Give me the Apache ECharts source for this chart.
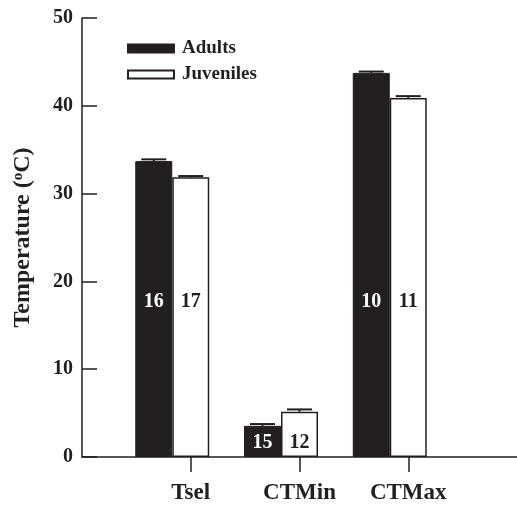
<!DOCTYPE html>
<html>
<head>
<meta charset="utf-8">
<script src="https://cdn.jsdelivr.net/npm/echarts@6/dist/echarts.min.js"></script>
<style>html,body{margin:0;padding:0;background:#fff}#c{width:517px;height:505px}</style>
</head>
<body>
<div id="c"></div>
<script>
var categories = ['Tsel', 'CTMin', 'CTMax'];
var adults = [33.7, 3.55, 43.75];
var adultsErr = [0.2, 0.2, 0.15];
var juveniles = [31.85, 5.15, 40.9];
var juvenilesErr = [0.15, 0.27, 0.2];
var nAdults = [16, 15, 10];
var nJuveniles = [17, 12, 11];
var nLabelY = [17.7, 1.6, 17.7];
var yTicks = [0, 10, 20, 30, 40, 50];

var INK = '#231f20';
var FONT = '"Liberation Serif", "Times New Roman", serif';
var BW = 37;

var axisData = [''].concat(categories, ['']);
function pad(arr) { return ['-'].concat(arr, ['-']); }
function errData(vals, errs) {
  return vals.map(function (v, i) { return [i + 1, v, errs[i]]; });
}
function labelData(ns) {
  return ns.map(function (n, i) { return [i + 1, nLabelY[i], n]; });
}
function errRender(offset) {
  return function (params, api) {
    var x = api.value(0), m = api.value(1), e = api.value(2);
    var p0 = api.coord([x, m]);
    var p1 = api.coord([x, m + e]);
    var cx = p0[0] + offset;
    var st = { stroke: INK, lineWidth: 2 };
    return {
      type: 'group',
      children: [
        { type: 'line', shape: { x1: cx, y1: p0[1], x2: cx, y2: p1[1] }, style: st },
        { type: 'line', shape: { x1: cx - 12.5, y1: p1[1], x2: cx + 12.5, y2: p1[1] }, style: st }
      ]
    };
  };
}
function labelRender(offset, color) {
  return function (params, api) {
    var p = api.coord([api.value(0), api.value(1)]);
    return {
      type: 'text',
      x: p[0] + offset, y: p[1],
      style: {
        text: String(api.value(2)),
        fill: color,
        font: 'bold 20px ' + FONT,
        align: 'center',
        verticalAlign: 'middle'
      }
    };
  };
}

var chart = echarts.init(document.getElementById('c'));
chart.setOption({
  animation: false,
  backgroundColor: '#fff',
  textStyle: { fontFamily: FONT },
  grid: { left: 82, top: 18, bottom: 48, right: -4, containLabel: false },
  legend: {
    data: ['Adults', 'Juveniles'],
    orient: 'vertical',
    left: 122, top: 34,
    itemWidth: 46, itemHeight: 8, itemGap: 7,
    icon: 'rect',
    selectedMode: false,
    textStyle: { fontFamily: FONT, fontWeight: 'bold', fontSize: 19, color: INK, lineHeight: 16, padding: [0, 0, 0, 3] }
  },
  xAxis: {
    type: 'category',
    data: axisData,
    boundaryGap: false,
    axisLine: { lineStyle: { color: INK, width: 1.5 } },
    axisTick: { show: true, inside: false, length: 15, lineStyle: { color: INK, width: 1.5 },
      interval: function (i, v) { return v !== ''; } },
    axisLabel: { margin: 25, fontFamily: FONT, fontWeight: 'bold', fontSize: 23, color: INK,
      interval: function (i, v) { return v !== ''; } },
    splitLine: { show: false }
  },
  yAxis: {
    type: 'value',
    min: yTicks[0], max: yTicks[yTicks.length - 1], interval: 10,
    name: '{a|Temperature (}{s|o}{a|C)}',
    nameLocation: 'middle',
    nameGap: 47,
    nameRotate: 90,
    nameTextStyle: {
      rich: {
        a: { fontFamily: FONT, fontWeight: 'bold', fontSize: 24, color: INK },
        s: { fontFamily: FONT, fontWeight: 'bold', fontSize: 15, color: INK, verticalAlign: 'top', padding: [0, 0, 8, 0] }
      }
    },
    axisLine: { show: true, lineStyle: { color: INK, width: 1.5 } },
    axisTick: { show: true, inside: true, length: 15, lineStyle: { color: INK, width: 1.5 } },
    axisLabel: { margin: 9, fontFamily: FONT, fontWeight: 'bold', fontSize: 20, color: INK },
    splitLine: { show: false }
  },
  series: [
    { name: 'Adults', type: 'bar', data: pad(adults), barWidth: BW, barGap: '0%',
      itemStyle: { color: INK, borderColor: INK, borderWidth: 1 } },
    { name: 'Juveniles', type: 'bar', data: pad(juveniles), barWidth: BW, barGap: '0%',
      itemStyle: { color: '#ffffff', borderColor: INK, borderWidth: 1.5 } },
    { name: 'spacer', type: 'bar', data: [], barWidth: BW, barGap: '0%', silent: true },
    { name: 'errA', type: 'custom', data: errData(adults, adultsErr), renderItem: errRender(-BW), z: 5, silent: true },
    { name: 'errJ', type: 'custom', data: errData(juveniles, juvenilesErr), renderItem: errRender(0), z: 5, silent: true },
    { name: 'nA', type: 'custom', data: labelData(nAdults), renderItem: labelRender(-BW, '#ffffff'), z: 6, silent: true },
    { name: 'nJ', type: 'custom', data: labelData(nJuveniles), renderItem: labelRender(0, INK), z: 6, silent: true }
  ]
});
</script>
</body>
</html>
